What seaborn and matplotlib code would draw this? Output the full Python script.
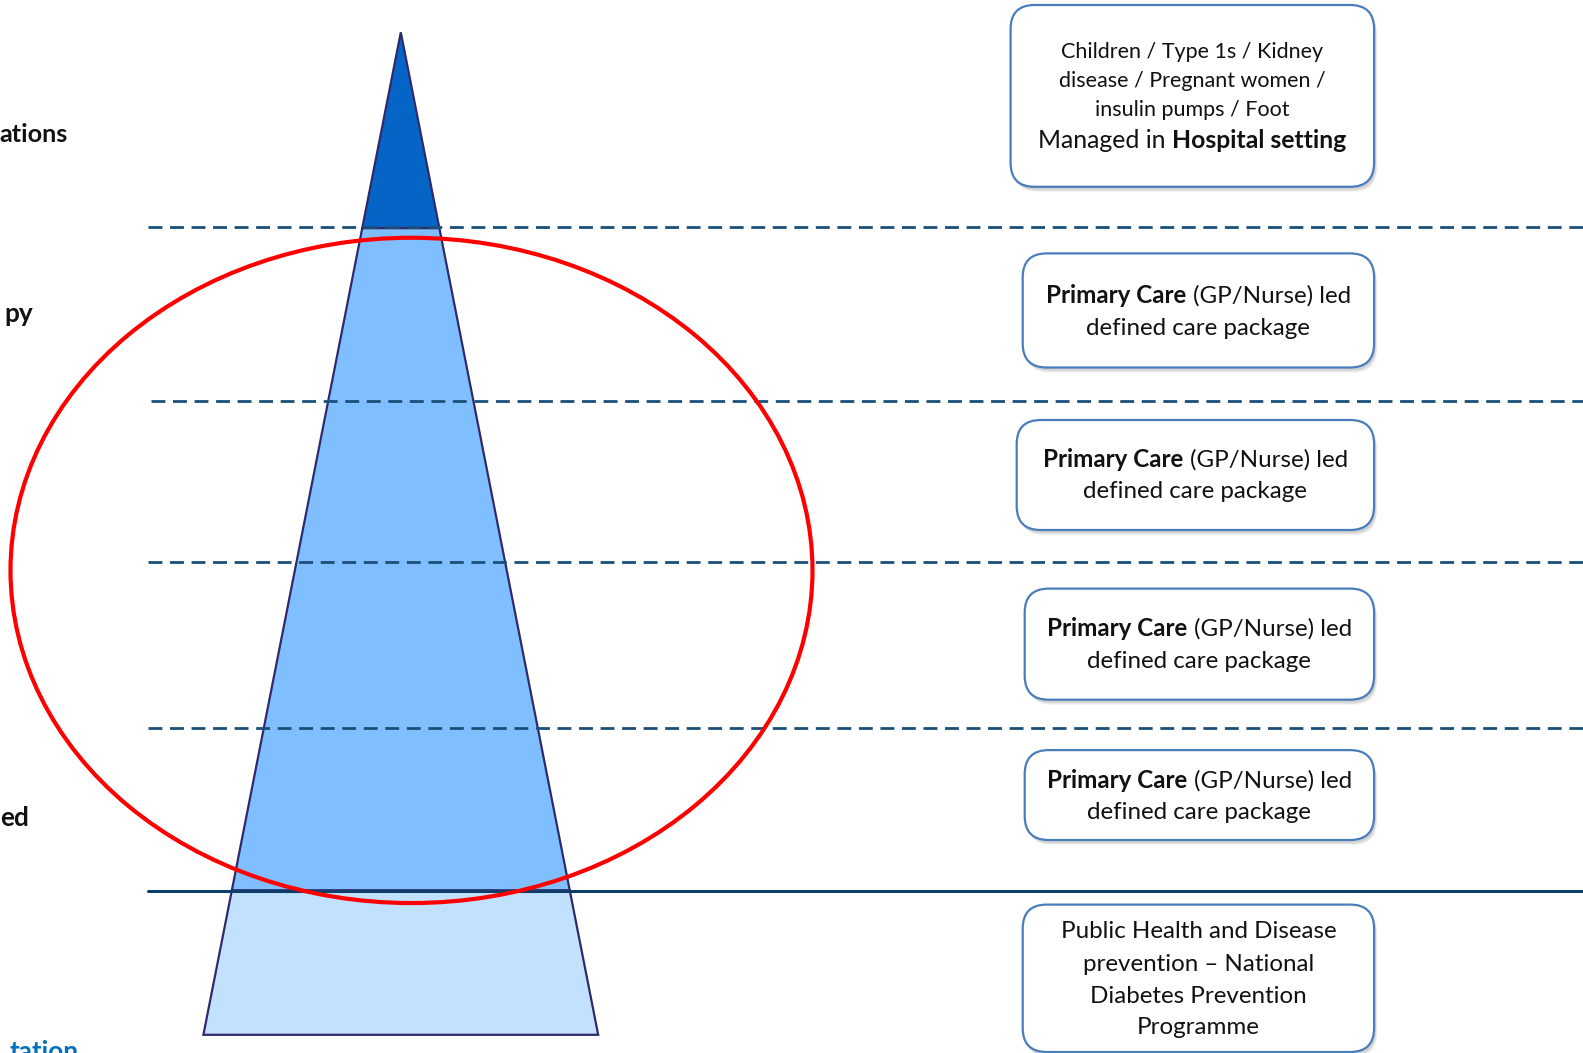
import matplotlib
matplotlib.use("Agg")
import matplotlib.pyplot as plt
import seaborn as sns
import pandas as pd
from matplotlib.patches import FancyBboxPatch, Ellipse, Polygon

sns.set_theme(style="white")
plt.rcParams["font.family"] = ["Lato", "DejaVu Sans"]
plt.rcParams["lines.scale_dashes"] = False

# ---- pyramid geometry (canvas pixel units, y grows downward) ----
apex = (400.8, 32.3)
base_y = 1034.8
base_x = (202.9, 597.7)
tier_tops = [32.3, 228.2, 890.5]
tier_bottoms = [228.2, 890.5, 1034.8]
tier_colors = ["#0565c6", "#80bfff", "#c2e1ff"]
outline_color = "#2f2a6b"

# ---- horizontal tier dividers ----
divider_y = [227.2, 400.8, 562.3, 727.9]
divider_x0 = [148.4, 151.4, 148.4, 148.4]
boundary_y = 890.5
rule_color = "#1b4f7a"

# ---- red focus ellipse ----
ellipse_center = (411.5, 570.4)
ellipse_size = (802.0, 665.3)

# ---- left-hand tier captions (run off the canvas edge) ----
left_labels = ["ations", "py", "ed", "tation"]
left_label_right = [67.5, 32.6, 28.8, 79.0]
left_label_base = [141.5, 322.0, 825.7, 1060.0]
left_label_size = [18.2, 18.8, 18.8, 18.8]
left_label_colors = ["#111111", "#111111", "#111111", "#0070c0"]

# ---- right-hand description boxes ----
box_x0 = [1010.6, 1022.7, 1016.7, 1024.7, 1024.7, 1022.7]
box_x1 = [1374.1, 1374.1, 1374.1, 1374.1, 1374.1, 1374.1]
box_y0 = [5.0, 253.4, 420.0, 588.6, 750.1, 904.6]
box_y1 = [186.8, 367.5, 530.0, 699.7, 840.0, 1052.0]
primary = [[("Primary Care", "bold"), ("(GP/Nurse) led", "normal")],
           [("defined care package", "normal")]]
box_lines = [
    [[("Children / Type 1s / Kidney", "normal")],
     [("disease / Pregnant women /", "normal")],
     [("insulin pumps / Foot", "normal")],
     [("Managed in", "normal"), ("Hospital setting", "bold")]],
    primary, primary, primary, primary,
    [[("Public Health and Disease", "normal")],
     [("prevention \u2013 National", "normal")],
     [("Diabetes Prevention", "normal")],
     [("Programme", "normal")]],
]
text_cx = [1192.3, 1198.4, 1195.4, 1199.4, 1199.4, 1198.4]
text_cy = [[51.5, 80.8, 110.0, 140.3],
           [295.8, 328.1], [459.4, 491.7], [629.0, 661.3], [780.4, 812.7],
           [931.9, 964.2, 996.5, 1027.8]]
text_size = [[15.5, 15.5, 15.5, 17.8],
             [17.4, 17.4], [17.4, 17.4], [17.4, 17.4], [17.4, 17.4],
             [17.4, 17.4, 17.4, 17.4]]

W, H = 1583, 1053
fig = plt.figure(figsize=(W / 100, H / 100), dpi=100)
ax = fig.add_axes([0, 0, 1, 1])
ax.set_xlim(0, W)
ax.set_ylim(H, 0)
ax.axis("off")


def half_width(y):
    return (base_x[1] - base_x[0]) / 2 * (y - apex[1]) / (base_y - apex[1])


# pyramid tiers
for top, bot, col in zip(tier_tops, tier_bottoms, tier_colors):
    wt, wb = half_width(top), half_width(bot)
    pts = [(apex[0] - wt, top), (apex[0] + wt, top),
           (apex[0] + wb, bot), (apex[0] - wb, bot)]
    ax.add_patch(Polygon(pts, closed=True, facecolor=col,
                         edgecolor=outline_color, lw=1.6, zorder=2,
                         joinstyle="miter"))

# dashed dividers and the solid prevention boundary
div = pd.DataFrame({"x": sum([[x0, W] for x0 in divider_x0], []),
                    "y": sum([[y, y] for y in divider_y], []),
                    "tier": sum([[i, i] for i in range(len(divider_y))], [])})
sns.lineplot(data=div, x="x", y="y", units="tier", estimator=None,
             color=rule_color, lw=2.0, ax=ax, zorder=3, legend=False,
             sort=False)
for ln in ax.lines:
    ln.set_dashes((10, 5.5))
sol = pd.DataFrame({"x": [148.4, W], "y": [boundary_y, boundary_y]})
sns.lineplot(data=sol, x="x", y="y", color="#0e3f6b", lw=2.2, ax=ax,
             zorder=3, legend=False)

# focus ellipse
ax.add_patch(Ellipse(ellipse_center, ellipse_size[0], ellipse_size[1],
                     fill=False, edgecolor="#ff0000", lw=3.0, zorder=4))

# left captions
for s, xr, yb, fs, c in zip(left_labels, left_label_right, left_label_base,
                            left_label_size, left_label_colors):
    ax.text(xr, yb, s, ha="right", va="baseline", fontsize=fs,
            fontweight="bold", color=c, zorder=5)

# boxes with soft shadow
for x0, x1, y0, y1 in zip(box_x0, box_x1, box_y0, box_y1):
    for k, a in enumerate([0.10, 0.12, 0.16]):
        off = 5 - k
        ax.add_patch(FancyBboxPatch((x0 + off * 0.6, y0 + off), x1 - x0,
                                    y1 - y0,
                                    boxstyle="round,pad=0,rounding_size=24",
                                    facecolor="#7f7f7f", edgecolor="none",
                                    alpha=a, zorder=5))
    ax.add_patch(FancyBboxPatch((x0, y0), x1 - x0, y1 - y0,
                                boxstyle="round,pad=0,rounding_size=24",
                                facecolor="white", edgecolor="#4a7ebb",
                                lw=1.6, zorder=6))

renderer = fig.canvas.get_renderer()
for lines, cx, cys, sizes in zip(box_lines, text_cx, text_cy, text_size):
    for segs, cy, fs in zip(lines, cys, sizes):
        objs = [ax.text(0, cy, s, fontsize=fs, fontweight=w, ha="left",
                        va="center", color="#111111", zorder=7)
                for s, w in segs]
        gap = fs * 0.36
        widths = [t.get_window_extent(renderer).width for t in objs]
        total = sum(widths) + gap * (len(objs) - 1)
        x = cx - total / 2
        for t, w in zip(objs, widths):
            t.set_x(x)
            x += w + gap

fig.savefig("out.png", dpi=100)
